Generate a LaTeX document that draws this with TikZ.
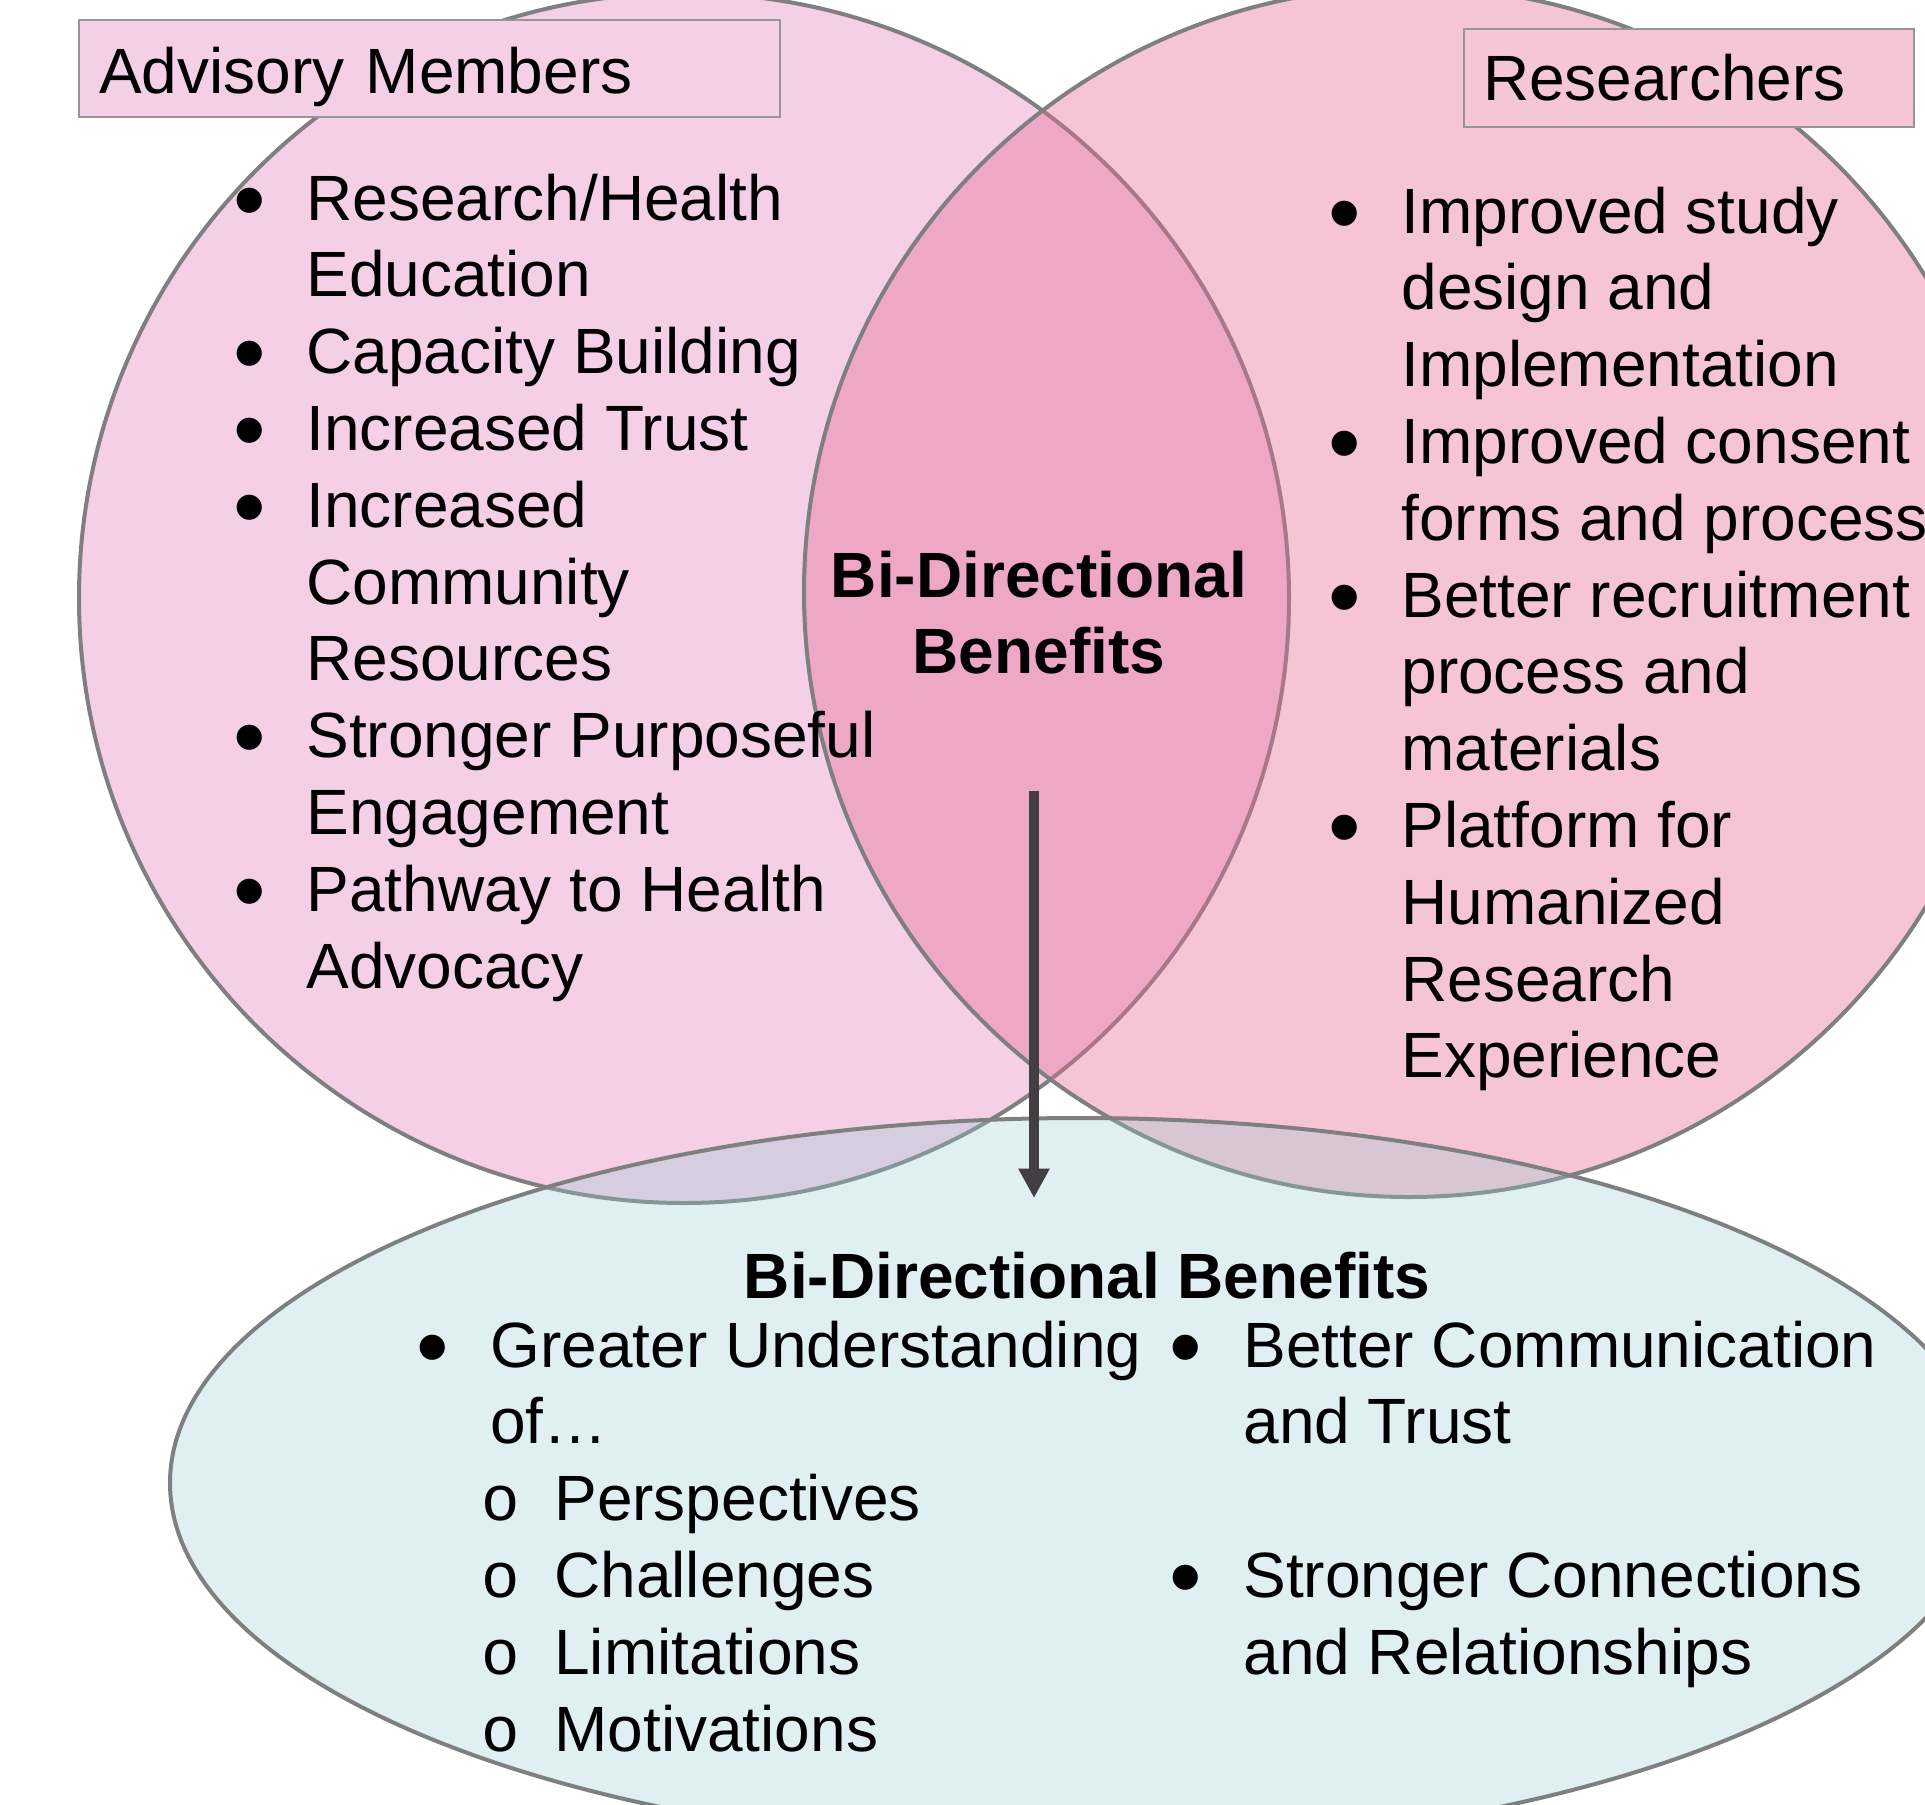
\documentclass[tikz,border=0pt]{standalone}
\usepackage{graphicx}
\usepackage{fontspec}
\setmainfont{Liberation Sans}
\newfontfamily\monofont{Liberation Mono}
\usetikzlibrary{shapes}
\usetikzlibrary{arrows.meta}

\definecolor{advpink}{RGB}{244,207,230}
\definecolor{respink}{RGB}{230,110,152}
\definecolor{sharedblue}{RGB}{148,202,212}
\definecolor{rimgray}{RGB}{127,127,127}
\definecolor{boxgray}{RGB}{150,150,150}
\definecolor{resbox}{RGB}{245,198,214}
\definecolor{arrowgray}{RGB}{66,62,66}

% list marks
\newcommand{\bul}{\hspace*{-2.5pt}\smash{\raisebox{-5.5pt}{\scalebox{1.45}{•}}}}
\newcommand{\subdot}{\makebox[32pt][l]{\hspace*{-4.5pt}\monofont o}}

\begin{document}
\begin{tikzpicture}[x=0.5pt, y=-0.5pt,
    every node/.style={font=\fontsize{32}{38.4}\selectfont, inner sep=0pt},
    bigset/.style={draw=rimgray, line width=2pt, circle, minimum size=605pt},
    listnode/.style={anchor=base west},
    namebox/.style={draw=boxgray, line width=1pt, anchor=north west, align=left, inner ysep=0pt}]

    \useasboundingbox (0,0) rectangle (1925,1804);

    % the two groups and the shared outcome
    \node(AM)[bigset, fill=advpink] at (684,598) {};
    \node(RS)[bigset, fill=respink, fill opacity=0.4] at (1409,592) {};
    \node(BB)[draw=rimgray, line width=2pt, ellipse, minimum width=910pt, minimum height=365pt,
        fill=sharedblue, fill opacity=0.3] at (1080,1483) {};

    % group names
    \node(AMname)[namebox, fill=advpink, text width=330.5pt, inner xsep=10pt,
        text height=36.5pt, text depth=12pt] at (78,19) {Advisory Members};
    \node(RSname)[namebox, fill=resbox, text width=206pt, inner xsep=9.5pt,
        text height=35.5pt, text depth=13.5pt] at (1463,28) {Researchers};

    \node(AMlist)[listnode] at (238,220) {\begin{tabular}[t]{@{}p{34pt}@{}l@{}}
        \bul & Research/Health\\
             & Education\\
        \bul & Capacity Building\\
        \bul & Increased Trust\\
        \bul & Increased\\
             & Community\\
             & Resources\\
        \bul & Stronger Purposeful\\
             & Engagement\\
        \bul & Pathway to Health\\
             & Advocacy
        \end{tabular}};

    \node(RSlist)[listnode] at (1333,233) {\begin{tabular}[t]{@{}p{34pt}@{}l@{}}
        \bul & Improved study\\
             & design and\\
             & Implementation\\
        \bul & Improved consent\\
             & forms and process\\
        \bul & Better recruitment\\
             & process and\\
             & materials\\
        \bul & Platform for\\
             & Humanized\\
             & Research\\
             & Experience
        \end{tabular}};

    \node(BD)[font=\fontsize{32}{38.4}\selectfont\bfseries, anchor=base] at (1039,597)
        {\begin{tabular}[t]{@{}c@{}}Bi-Directional\\Benefits\end{tabular}};

    % shared benefits
    \node(BBtitle)[font=\fontsize{32}{38.4}\selectfont\bfseries, anchor=base] at (1087,1298)
        {Bi-Directional Benefits};

    \node(BBleft)[listnode] at (421,1367) {\begin{tabular}[t]{@{}p{34.5pt}@{}l@{}}
        \bul & Greater Understanding\\
             & of…\\
             & \subdot Perspectives\\
             & \subdot Challenges\\
             & \subdot Limitations\\
             & \subdot Motivations
        \end{tabular}};

    \node(BBright)[listnode] at (1174,1367) {\begin{tabular}[t]{@{}p{34.5pt}@{}l@{}}
        \bul & Better Communication\\
             & and Trust\\
             & \\
        \bul & Stronger Connections\\
             & and Relationships
        \end{tabular}};

    \coordinate(ArrowTop) at (1034,791);
    \coordinate(ArrowTip) at (1034,1198);
    \draw[-{Triangle[width=14.7pt,length=14.7pt]}, line width=5pt, arrowgray] (ArrowTop) -- (ArrowTip);

\end{tikzpicture}
\end{document}
